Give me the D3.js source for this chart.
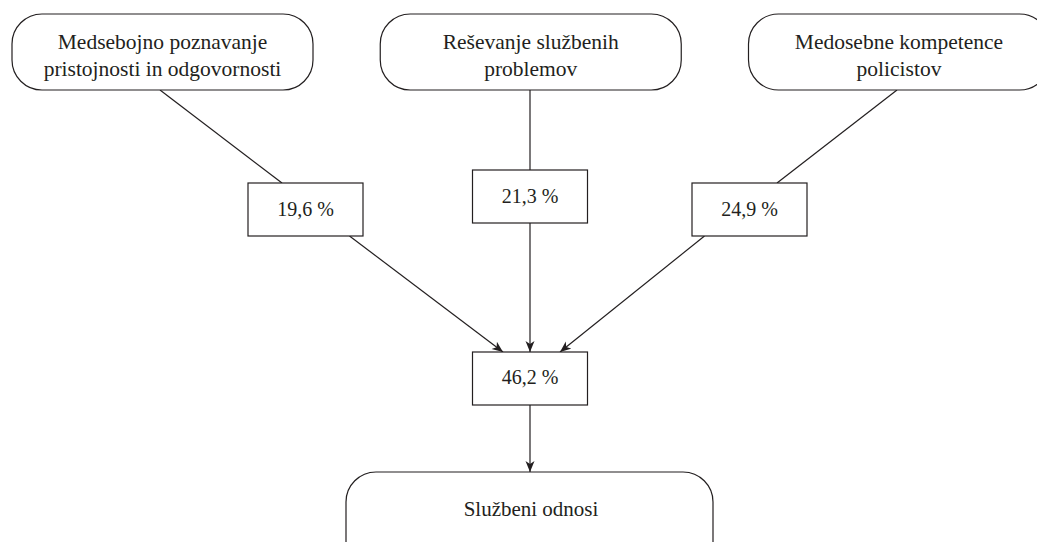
<!DOCTYPE html>
<html><head><meta charset="utf-8">
<script src="https://cdn.jsdelivr.net/npm/d3@7"></script>
<style>body{margin:0;background:#fff}svg{display:block}</style>
</head><body>
<svg id="c" width="1037" height="542"></svg>
<script>
const sources = [
  ["Medsebojno poznavanje", "pristojnosti in odgovornosti"],
  ["Reševanje službenih", "problemov"],
  ["Medosebne kompetence", "policistov"]
];
const sourceKeys = ["a", "b", "c"];
const percents = [19.6, 21.3, 24.9];
const totalPercent = 46.2;
const target = "Službeni odnosi";

const fmt = v => d3.format(".1f")(v).replace(".", ",") + " %";
const ink = "#231f20";
const font = "Liberation Serif, serif";

const svg = d3.select("#c");
const defs = svg.append("defs");
defs.append("marker").attr("id", "arr").attr("viewBox", "0 -5 12 10")
  .attr("refX", 11).attr("refY", 0).attr("markerWidth", 12).attr("markerHeight", 10)
  .attr("markerUnits", "userSpaceOnUse").attr("orient", "auto")
  .append("path").attr("d", "M0,-4.5L11,0L0,4.5L3,0Z").attr("fill", ink);

// layout scales
const xTop = d3.scalePoint().domain(sourceKeys).range([162.5, 899]);
const xPct = d3.scaleOrdinal().domain(sourceKeys).range([305.5, 530, 749.5]);
const yPctTop = d3.scaleOrdinal().domain(sourceKeys).range([183, 170, 183]);
const cx = 530;

const topW = 301, topH = 76, topY = 14, r = 30;
const pW = 115, pH = 53;

const g = svg.append("g").attr("stroke", ink).attr("stroke-width", 1.2).attr("fill", "none");
// top boxes -> percent boxes
const topStart = {a: -2.5, b: 0, c: -2};
const topEnd = {a: -23.5, b: 0, c: 27.5};
sourceKeys.forEach(k => {
  const x0 = k === "b" ? xPct(k) : xTop(k) + topStart[k];
  g.append("line").attr("x1", x0).attr("y1", topY + topH)
    .attr("x2", xPct(k) + topEnd[k]).attr("y2", yPctTop(k));
});
// percent boxes -> total
const totY = 352, totH = 53;
const lowStart = {a: 44, b: 0, c: -45};
const ends = {a: cx - 27, b: cx, c: cx + 30};
sourceKeys.forEach(k => {
  g.append("line").attr("x1", xPct(k) + lowStart[k]).attr("y1", yPctTop(k) + pH)
    .attr("x2", ends[k]).attr("y2", totY).attr("marker-end", "url(#arr)");
});
g.append("line").attr("x1", cx).attr("y1", totY + totH).attr("x2", cx).attr("y2", 472)
  .attr("marker-end", "url(#arr)");

// top rounded boxes
const tops = svg.append("g").selectAll("g").data(sources).join("g");
tops.append("rect")
  .attr("x", (d, i) => xTop(sourceKeys[i]) - topW / 2).attr("y", topY)
  .attr("width", topW).attr("height", topH).attr("rx", r).attr("ry", r)
  .attr("fill", "#fff").attr("stroke", ink).attr("stroke-width", 1.2);
tops.each(function(d, i) {
  const t = d3.select(this).append("text")
    .attr("text-anchor", "middle")
    .style("font-family", font).style("font-size", "21.5px").attr("fill", ink);
  d.forEach((line, j) => t.append("tspan").attr("x", xTop(sourceKeys[i])).attr("y", 48.5 + j * 27.5).text(line));
});

// percent boxes
const pg = svg.append("g").selectAll("g").data(percents).join("g");
pg.append("rect")
  .attr("x", (d, i) => xPct(sourceKeys[i]) - pW / 2).attr("y", (d, i) => yPctTop(sourceKeys[i]))
  .attr("width", pW).attr("height", pH).attr("fill", "#fff").attr("stroke", ink).attr("stroke-width", 1.2);
pg.append("text")
  .attr("x", (d, i) => xPct(sourceKeys[i])).attr("y", (d, i) => yPctTop(sourceKeys[i]) + 33)
  .attr("text-anchor", "middle").style("font-family", font).style("font-size", "20px").attr("fill", ink)
  .text(d => fmt(d));

// total box
svg.append("rect").attr("x", cx - pW / 2).attr("y", totY).attr("width", pW).attr("height", totH)
  .attr("fill", "#fff").attr("stroke", ink).attr("stroke-width", 1.2);
svg.append("text").attr("x", cx).attr("y", totY + 32).attr("text-anchor", "middle")
  .style("font-family", font).style("font-size", "20px").attr("fill", ink).text(fmt(totalPercent));

// target box
svg.append("rect").attr("x", 346).attr("y", 472).attr("width", 367).attr("height", 110)
  .attr("rx", r).attr("ry", r).attr("fill", "#fff").attr("stroke", ink).attr("stroke-width", 1.2);
svg.append("text").attr("x", 531).attr("y", 516).attr("text-anchor", "middle")
  .style("font-family", font).style("font-size", "21px").attr("fill", ink).text(target);
</script>
</body></html>
